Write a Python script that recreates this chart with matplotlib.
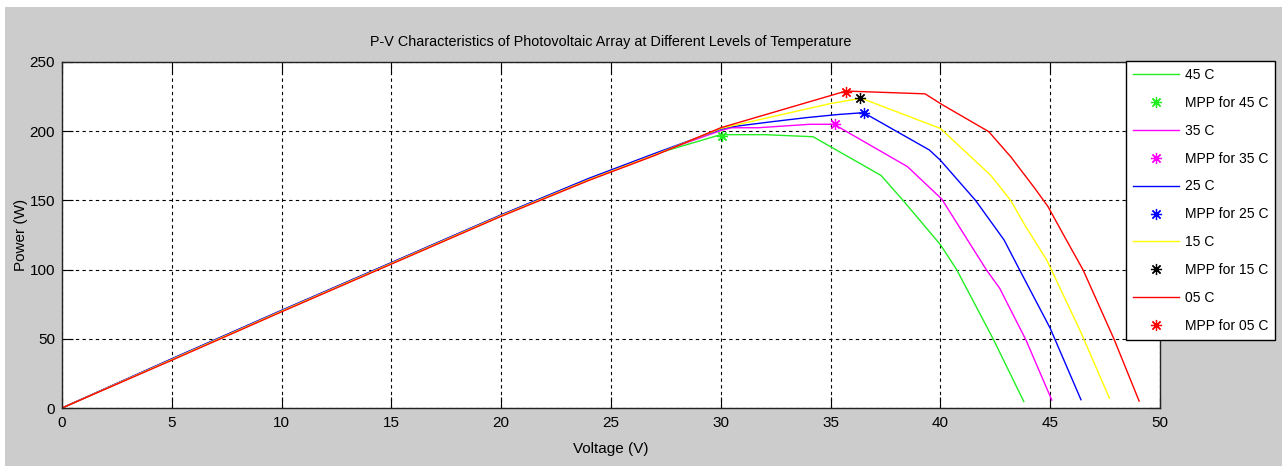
import matplotlib
matplotlib.use("Agg")
import matplotlib.pyplot as plt
from matplotlib.patches import Rectangle

# --- data (Voltage V, Power W) ---
v_45 = [0, 5, 10, 15, 20, 24, 27, 30, 32, 34.2, 37.3, 38.3, 40, 40.74, 42.4, 43.8]
p_45 = [0, 35.5, 70.5, 105, 139.5, 165.5, 183.5, 197.5, 197.5, 196, 168, 150, 118, 100, 50, 4.6]

v_35 = [0, 5, 10, 15, 20, 24, 27, 30, 30.5, 31.7, 34.06, 35.15, 38.5, 40.06, 42.1, 42.7, 43.9, 45.07]
p_35 = [0, 35.5, 70.5, 105, 139.5, 165.5, 183.5, 200.5, 202.5, 202.5, 205, 205, 174.4, 151, 99.7, 86.5, 49, 5.8]

v_25 = [0, 5, 10, 15, 20, 24, 27, 30, 30.4, 32.4, 33.9, 35.3, 36.5, 39.5, 40, 41.6, 42.9, 43.6, 45.0, 46.4]
p_25 = [0, 35.5, 70.5, 105, 139.5, 166, 184, 201.5, 203, 207, 209.8, 212, 213.4, 186.4, 179, 150, 121.4, 100, 57.6, 6]

v_15 = [0, 5, 10, 15, 20, 24, 27, 30, 35, 36.4, 40, 42.3, 43.2, 43.85, 44.84, 46.36, 47.7]
p_15 = [0, 35, 70, 104.5, 139, 165, 183, 202, 220, 223.8, 202, 168, 150, 132, 107, 56, 7]

v_05 = [0, 5, 10, 15, 20, 24, 27, 30, 35.7, 36.6, 39.3, 40.1, 42.2, 43.2, 44.3, 44.9, 45.75, 46.5, 47.9, 49.05]
p_05 = [0, 34.5, 69.5, 104, 138.5, 164.5, 182.5, 202.5, 229, 228.5, 227, 219, 199.7, 181.6, 158.7, 145.5, 121, 99.7, 50, 5]

# maximum power points
mpp_v = [30.04, 35.2, 36.5, 36.35, 35.7]
mpp_p = [196.5, 205, 213.4, 223.8, 228.5]

temps = ["45 C", "35 C", "25 C", "15 C", "05 C"]
colors = ["#22ee22", "#ff00ff", "#0000ff", "#ffff00", "#ff0000"]
mpp_colors = ["#22ee22", "#ff00ff", "#0000ff", "#000000", "#ff0000"]
curves = [(v_45, p_45), (v_35, p_35), (v_25, p_25), (v_15, p_15), (v_05, p_05)]

plt.rcParams["font.family"] = ["Liberation Sans", "DejaVu Sans"]

W, H = 1282, 466
fig = plt.figure(figsize=(W / 100, H / 100), dpi=100, facecolor="white")
# grey figure background (white strip top/left like the screenshot)
fig.patches.append(Rectangle((5 / W, 0), 1 - 5 / W, 1 - 7 / H, transform=fig.transFigure,
                             facecolor="#cccccc", edgecolor="none", zorder=-10))

ax = fig.add_axes([62 / W, 1 - 408 / H, 1098 / W, 346 / H])
ax.set_facecolor("white")

for (v, p), lab, c, mv, mp, mc in zip(curves, temps, colors, mpp_v, mpp_p, mpp_colors):
    ax.plot(v, p, color=c, lw=1.0, label=lab)
    ax.plot([mv], [mp], linestyle="none", marker=(8, 2, 0), markersize=8,
            markeredgewidth=0.9, color=mc, label="MPP for " + lab)

ax.set_xlim(0, 50)
ax.set_ylim(0, 250)
ax.set_xticks(range(0, 51, 5))
ax.set_yticks(range(0, 251, 50))
ax.grid(True, color="black", linestyle=(0, (3, 3)), linewidth=0.8)
ax.tick_params(direction="in", length=8, width=0.8, top=True, right=True,
               labelsize=11, colors="black")
ax.tick_params(axis="x", pad=6)
ax.tick_params(axis="y", pad=5)
for s in ax.spines.values():
    s.set_linewidth(1.0)
    s.set_color("#222222")

ax.set_xlabel("Voltage (V)", fontsize=11)
ax.set_ylabel("Power (W)", fontsize=11)
ax.xaxis.set_label_coords(0.5, -0.097)
ax.yaxis.set_label_coords(-0.031, 0.5)

fig.text(611 / W, 1 - 42 / H,
         "P-V Characteristics of Photovoltaic Array at Different Levels of Temperature",
         ha="center", va="center", fontsize=10.4)

leg = ax.legend(loc="upper left", bbox_to_anchor=(1126 / W, 1 - 61 / H),
                bbox_transform=fig.transFigure, borderaxespad=0, fontsize=10,
                fancybox=False, framealpha=1, edgecolor="black", labelspacing=1.0,
                handlelength=3.3, handletextpad=0.45, borderpad=0.5, numpoints=1)
leg.get_frame().set_linewidth(1.0)

fig.savefig("out.png", dpi=100, facecolor=fig.get_facecolor())
